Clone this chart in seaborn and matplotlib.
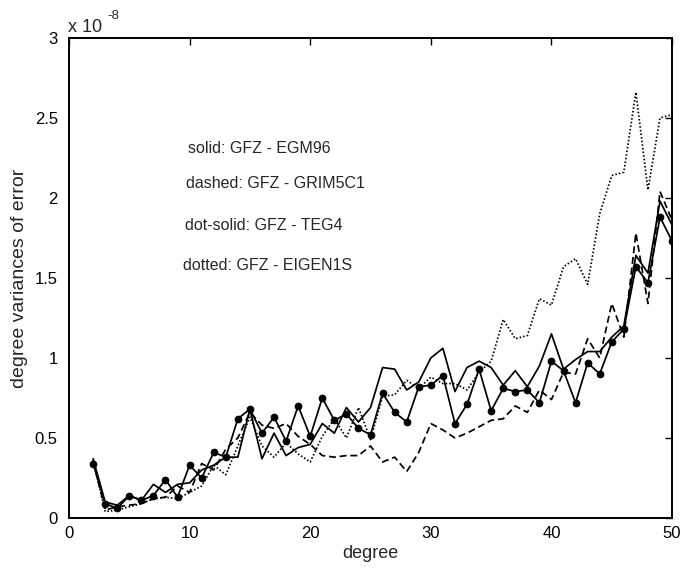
import numpy as np
import pandas as pd
import matplotlib
matplotlib.use("Agg")
import matplotlib.pyplot as plt
import seaborn as sns

# degree
degrees = list(range(2, 51))

# degree variances of error, in units of 1e-8
egm96_solid = [0.37, 0.10, 0.08, 0.14, 0.11, 0.21, 0.16, 0.21, 0.22, 0.30,
               0.33, 0.38, 0.38, 0.68, 0.37, 0.53, 0.39, 0.44, 0.46, 0.59,
               0.53, 0.69, 0.60, 0.69, 0.94, 0.93, 0.80, 0.85, 1.00, 1.06,
               0.79, 0.94, 0.98, 0.94, 0.83, 0.92, 0.82, 0.95, 1.15, 0.93,
               0.99, 1.04, 1.04, 1.13, 1.20, 1.64, 1.53, 1.98, 1.83]
grim5c1_dashed = [0.36, 0.05, 0.07, 0.08, 0.09, 0.12, 0.13, 0.20, 0.16, 0.34,
                  0.30, 0.43, 0.50, 0.66, 0.58, 0.56, 0.59, 0.51, 0.46, 0.39,
                  0.38, 0.39, 0.39, 0.45, 0.35, 0.38, 0.29, 0.41, 0.59, 0.55,
                  0.50, 0.53, 0.57, 0.61, 0.62, 0.70, 0.66, 0.80, 0.74, 0.91,
                  0.90, 1.12, 1.00, 1.34, 1.13, 1.78, 1.34, 2.04, 1.86]
teg4_dotsolid = [0.34, 0.09, 0.06, 0.14, 0.11, 0.14, 0.24, 0.13, 0.33, 0.25,
                 0.41, 0.38, 0.62, 0.68, 0.53, 0.63, 0.48, 0.70, 0.51, 0.75,
                 0.61, 0.65, 0.56, 0.52, 0.78, 0.66, 0.60, 0.82, 0.83, 0.89,
                 0.59, 0.71, 0.93, 0.67, 0.81, 0.79, 0.80, 0.72, 0.98, 0.92,
                 0.72, 0.97, 0.90, 1.10, 1.18, 1.57, 1.47, 1.88, 1.73]
eigen1s_dotted = [0.36, 0.04, 0.05, 0.07, 0.09, 0.12, 0.13, 0.12, 0.16, 0.20,
                  0.33, 0.27, 0.45, 0.63, 0.45, 0.38, 0.47, 0.40, 0.35, 0.51,
                  0.62, 0.50, 0.69, 0.49, 0.76, 0.77, 0.86, 0.81, 0.88, 0.84,
                  0.84, 0.80, 0.91, 0.98, 1.24, 1.12, 1.14, 1.37, 1.33, 1.57,
                  1.62, 1.46, 1.90, 2.14, 2.16, 2.66, 2.05, 2.50, 2.52]

labels = ["solid: GFZ - EGM96", "dashed: GFZ - GRIM5C1",
          "dot-solid: GFZ - TEG4", "dotted: GFZ - EIGEN1S"]
x_ticks = [0, 10, 20, 30, 40, 50]
y_ticks = [0, 0.5, 1, 1.5, 2, 2.5, 3]
y_ticklabels = ["0", "0.5", "1", "1.5", "2", "2.5", "3"]

sns.set_style("white")
plt.rcParams['font.family'] = ['Liberation Sans', 'DejaVu Sans']

fig = plt.figure(figsize=(6.83, 5.73), dpi=100)
ax = fig.add_axes([0.101, 0.096, 0.883, 0.838])

df = pd.DataFrame({"degree": degrees, "solid": egm96_solid,
                   "dashed": grim5c1_dashed, "dotsolid": teg4_dotsolid,
                   "dotted": eigen1s_dotted})

sns.lineplot(data=df, x="degree", y="dotted", color="k", lw=1.25,
             ax=ax, linestyle=(0, (0.9, 1.2)))
sns.lineplot(data=df, x="degree", y="dashed", color="k", lw=1.25,
             ax=ax, linestyle=(0, (4.0, 2.2)))
sns.lineplot(data=df, x="degree", y="solid", color="k", lw=1.25, ax=ax)
sns.lineplot(data=df, x="degree", y="dotsolid", color="k", lw=1.25, ax=ax,
             marker="o", markersize=4.8, markeredgecolor="k",
             markerfacecolor="k")

ax.set_xlim(0, 50)
ax.set_ylim(0, 3)
ax.set_xticks(x_ticks)
ax.set_yticks(y_ticks)
ax.set_yticklabels(y_ticklabels)
ax.tick_params(direction="in", top=True, right=True, length=5, width=1,
               labelsize=12, colors="k")
ax.tick_params(axis="x", pad=6)
ax.tick_params(axis="y", pad=8)
for s in ax.spines.values():
    s.set_linewidth(1.4)
    s.set_color("k")
ax.set_xlabel("degree", fontsize=13, labelpad=3)
ax.set_ylabel("degree variances of error", fontsize=14, labelpad=5)

# exponent label (x 10^-8) drawn as plain text pieces
fig.text(0.1, 0.952, "x 10", fontsize=13, ha="left", va="center")
fig.text(0.157, 0.972, "-8", fontsize=9.5, ha="left", va="center")

text_pos = [(9.85, 2.31), (9.7, 2.09), (9.6, 1.83), (9.45, 1.58)]
for (tx, ty), lab in zip(text_pos, labels):
    ax.text(tx, ty, lab, fontsize=11.5, ha="left", va="center")

fig.savefig("out.png", dpi=100)
